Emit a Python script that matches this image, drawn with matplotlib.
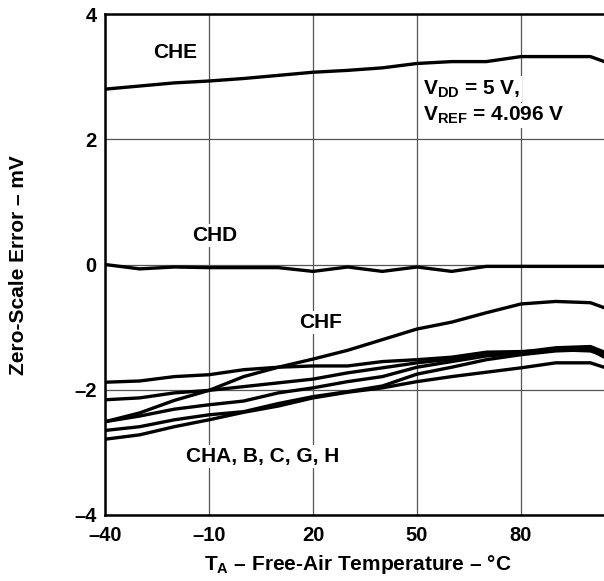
import matplotlib
matplotlib.use('Agg')
import matplotlib.pyplot as plt

plt.rcParams['font.family'] = ['Liberation Sans', 'DejaVu Sans']
plt.rcParams['font.weight'] = 'bold'
plt.rcParams['mathtext.fontset'] = 'custom'
plt.rcParams['mathtext.rm'] = 'Liberation Sans:bold'
plt.rcParams['mathtext.it'] = 'Liberation Sans:bold'
plt.rcParams['mathtext.bf'] = 'Liberation Sans:bold'

temps = [-40, -30, -20, -10, 0, 10, 20, 30, 40, 50, 60, 70, 80, 90, 100, 110]

che = [2.80, 2.85, 2.90, 2.93, 2.97, 3.02, 3.07, 3.10, 3.14, 3.21, 3.24, 3.24, 3.32, 3.32, 3.32, 3.12]
chd = [0.00, -0.07, -0.04, -0.05, -0.05, -0.05, -0.11, -0.04, -0.11, -0.04, -0.11, -0.03, -0.03, -0.03, -0.03, -0.03]
chf = [-2.51, -2.37, -2.17, -2.01, -1.79, -1.64, -1.51, -1.37, -1.20, -1.03, -0.92, -0.77, -0.63, -0.59, -0.61, -0.81]
ch_1 = [-1.88, -1.86, -1.79, -1.76, -1.68, -1.64, -1.62, -1.62, -1.55, -1.52, -1.48, -1.40, -1.39, -1.36, -1.38, -1.55]
ch_2 = [-2.16, -2.13, -2.05, -2.01, -1.95, -1.89, -1.83, -1.73, -1.65, -1.57, -1.51, -1.44, -1.40, -1.33, -1.31, -1.53]
ch_3 = [-2.51, -2.42, -2.31, -2.24, -2.18, -2.05, -1.97, -1.87, -1.79, -1.64, -1.55, -1.46, -1.42, -1.35, -1.33, -1.58]
ch_4 = [-2.65, -2.59, -2.48, -2.40, -2.35, -2.22, -2.11, -2.03, -1.94, -1.75, -1.64, -1.52, -1.44, -1.38, -1.36, -1.66]
ch_5 = [-2.79, -2.72, -2.59, -2.48, -2.36, -2.26, -2.13, -2.04, -1.97, -1.87, -1.79, -1.72, -1.65, -1.57, -1.57, -1.75]

xticks = [-40, -10, 20, 50, 80]
yticks = [-4, -2, 0, 2, 4]
xticklabels = ['\u201340', '\u201310', '20', '50', '80']
yticklabels = ['\u20134', '\u20132', '0', '2', '4']

fig = plt.figure(figsize=(6.04, 5.81), dpi=100)
ax = fig.add_axes([105 / 604, 1 - 515 / 581, 499 / 604, 501 / 581])

for s in [che, chd, chf, ch_1, ch_2, ch_3, ch_4, ch_5]:
    ax.plot(temps, s, color='black', lw=2.4, solid_joinstyle='round', zorder=3)

ax.set_xlim(-40, -40 + 499 / 3.467)
ax.set_ylim(-4, 4)
ax.set_xticks(xticks)
ax.set_yticks(yticks)
ax.set_xticklabels(xticklabels)
ax.set_yticklabels(yticklabels)
ax.tick_params(length=0, labelsize=14.5)
ax.tick_params(axis='x', pad=8)
ax.tick_params(axis='y', pad=6)
for lab in ax.get_xticklabels() + ax.get_yticklabels():
    lab.set_fontweight('bold')

ax.grid(True, color='#555555', lw=0.9)
ax.set_axisbelow(True)
ax.spines['right'].set_visible(False)
for sp in ['left', 'bottom', 'top']:
    ax.spines[sp].set_linewidth(1.8)

box = dict(facecolor='white', edgecolor='none', pad=1.5)
fs = 15
ax.text(-19.8, 3.39, 'CHE', ha='center', va='center', fontsize=fs, fontweight='bold', bbox=box, zorder=4)
ax.text(-8.3, 0.46, 'CHD', ha='center', va='center', fontsize=fs, fontweight='bold', bbox=box, zorder=4)
ax.text(22.3, -0.93, 'CHF', ha='center', va='center', fontsize=fs, fontweight='bold', bbox=box, zorder=4)
ax.text(5.6, -3.07, 'CHA, B, C, G, H', ha='center', va='center', fontsize=fs, fontweight='bold', bbox=box, zorder=4)
ax.text(51.7, 2.80, r'V$_{\rm DD}$ = 5 V,', ha='left', va='center', fontsize=fs, fontweight='bold', bbox=box, zorder=4)
ax.text(51.7, 2.38, r'V$_{\rm REF}$ = 4.096 V', ha='left', va='center', fontsize=fs, fontweight='bold', bbox=box, zorder=4)

fig.text(358 / 604, 1 - 565 / 581, 'T$_{\\rm A}$ \u2013 Free-Air Temperature \u2013 \u00b0C',
         ha='center', va='center', fontsize=fs, fontweight='bold')
fig.text(19 / 604, 1 - 265 / 581, 'Zero-Scale Error \u2013 mV', rotation=90,
         ha='center', va='center', fontsize=fs, fontweight='bold')

fig.savefig('out.png', dpi=100)
